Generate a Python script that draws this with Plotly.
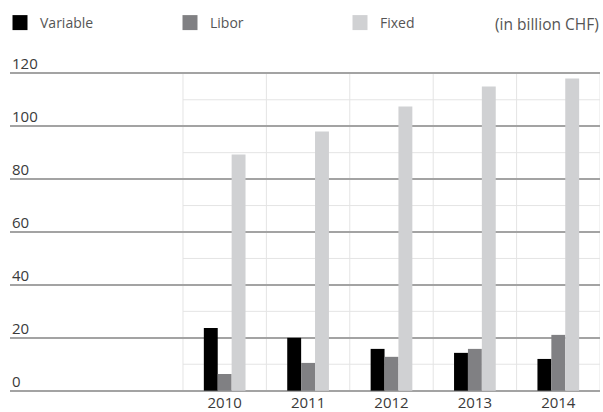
import plotly.graph_objects as go

# Interest rate structure of the mortgage book (in billion CHF)
years = ["2010", "2011", "2012", "2013", "2014"]
variable = [23.7, 20.0, 15.8, 14.3, 12.0]
libor = [6.3, 10.5, 12.8, 15.8, 21.1]
fixed = [89.3, 98.0, 107.5, 115.0, 118.0]

series_names = ["Variable", "Libor", "Fixed"]
series_colors = ["#000000", "#808083", "#d0d1d3"]

y_major = [0, 20, 40, 60, 80, 100, 120]
y_minor = [10, 30, 50, 70, 90, 110]

FONT = "Open Sans"
TEXT = "#3a3a3a"
MAJOR = "#a3a3a3"
MINOR = "#e4e4e4"

fig = go.Figure()
for name, vals, col in zip(series_names, [variable, libor, fixed], series_colors):
    fig.add_trace(go.Bar(name=name, x=years, y=vals, marker=dict(color=col, line_width=0),
                         legendgroup=name, showlegend=False))
    # legend entry with a larger square swatch
    fig.add_trace(go.Scatter(name=name, x=[None], y=[None], mode="markers", legendgroup=name,
                             marker=dict(symbol="square", size=15, color=col, line_width=0),
                             showlegend=True, hoverinfo="skip"))

n = len(years)
shapes = []
# light horizontal lines between the major steps, only under the year columns
for v in y_minor:
    shapes.append(dict(type="line", xref="x", yref="y", x0=-0.5, x1=n - 0.5, y0=v, y1=v,
                       line=dict(color=MINOR, width=1), layer="below"))
# light vertical separators between the years
for i in range(n + 1):
    shapes.append(dict(type="line", xref="x", yref="y", x0=i - 0.5, x1=i - 0.5,
                       y0=y_major[0], y1=y_major[-1], line=dict(color=MINOR, width=1), layer="below"))

# y values written above their grid lines at the left edge
annotations = [dict(xref="paper", yref="y", x=0, y=v, text=str(v), showarrow=False,
                    xanchor="left", yanchor="bottom", yshift=-2,
                    font=dict(family=FONT, size=15, color=TEXT)) for v in y_major]
annotations.append(dict(xref="paper", yref="paper", x=1, y=1, yshift=48, xshift=1,
                        text="(in billion CHF)", showarrow=False, xanchor="right", yanchor="middle",
                        font=dict(family=FONT, size=15.5, color="#555555")))

fig.update_layout(
    width=603, height=412,
    margin=dict(l=10, r=3, t=72, b=20, autoexpand=False),
    paper_bgcolor="white", plot_bgcolor="white",
    barmode="group", bargap=0.5, bargroupgap=0,
    font=dict(family=FONT, color=TEXT),
    shapes=shapes, annotations=annotations,
    showlegend=True,
    legend=dict(orientation="h", xref="container", yref="container", x=-0.018, y=1 - 23 / 412,
                xanchor="left", yanchor="middle", itemsizing="trace",
                entrywidth=125, traceorder="normal",
                font=dict(family=FONT, size=14, color="#555555")),
    xaxis=dict(type="category", range=[-2.574, n - 0.5], showgrid=False, zeroline=False,
               showline=False, ticks="", tickfont=dict(family=FONT, size=15, color=TEXT)),
    yaxis=dict(range=[-0.5, 120.5], tickvals=y_major, showticklabels=False, showgrid=True,
               gridcolor=MAJOR, gridwidth=1.5, zeroline=False, showline=False),
)

fig.write_html("out.html")
